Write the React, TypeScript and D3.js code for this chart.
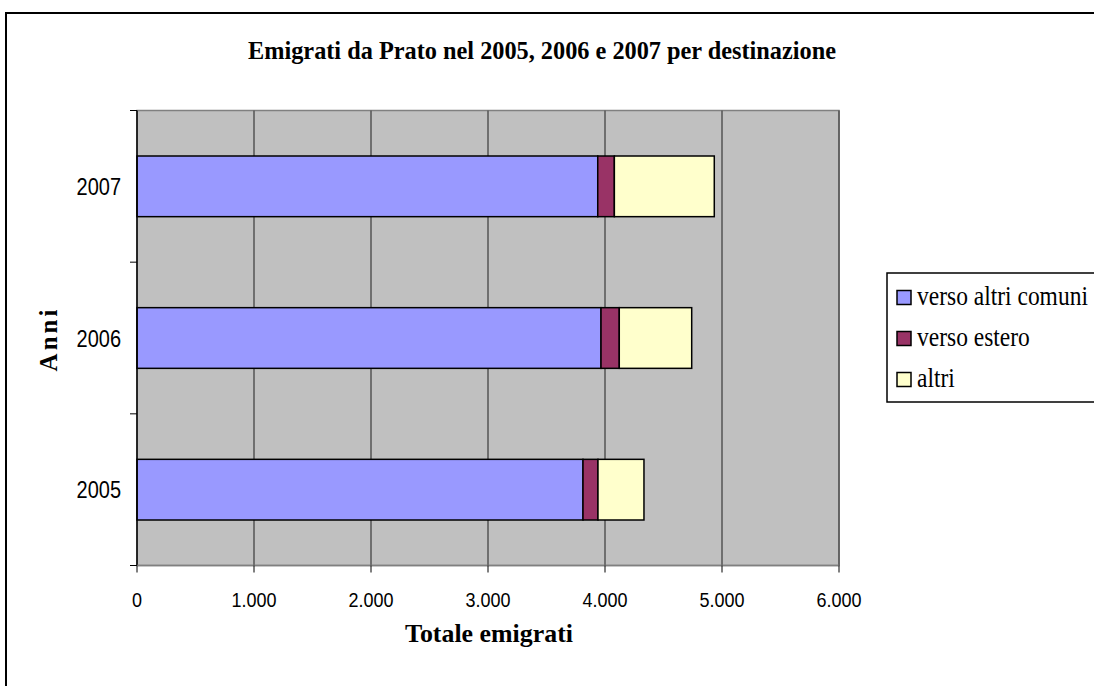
import React from "react";
import * as d3 from "d3";

const years = ["2005", "2006", "2007"];
const seriesNames = ["verso altri comuni", "verso estero", "altri"];
const versoAltriComuni = [3812, 3966, 3938];
const versoEstero = [128, 156, 142];
const altri = [393, 619, 854];
const xTicks = [0, 1000, 2000, 3000, 4000, 5000, 6000];
const colors = ["#9999FF", "#993366", "#FFFFCC"];

const W = 1094;
const H = 686;
const plot = { left: 137, right: 839, top: 110.5, bottom: 565.5 };

const serif = "'Liberation Serif', 'Times New Roman', serif";
const sans = "'Liberation Sans', Arial, sans-serif";

function Txt(props: any) {
  const { x, y, sy = 1.17, children, ...rest } = props;
  return (
    <g transform={`translate(${x},${y}) scale(1,${sy})`}>
      <text x={0} y={0} {...rest}>
        {children}
      </text>
    </g>
  );
}

export default function App() {
  const x = d3.scaleLinear().domain([0, 6000]).range([plot.left, plot.right]);
  const y = d3
    .scaleBand()
    .domain([...years].reverse())
    .range([plot.top, plot.bottom])
    .paddingInner(0.6)
    .paddingOuter(0.3);
  const band = (plot.bottom - plot.top) / years.length;

  const rows = years.map((yr, i) => ({
    year: yr,
    a: versoAltriComuni[i],
    b: versoEstero[i],
    c: altri[i],
  }));
  const stack = d3.stack<any>().keys(["a", "b", "c"])(rows);
  const fmt = (v: number) => d3.format(",")(v).replace(/,/g, ".");

  return (
    <svg width={W} height={H} style={{ position: "absolute", left: 0, top: 0 }}>
      <rect x={0} y={0} width={W} height={H} fill="#fff" />
      <rect x={6} y={13} width={W + 20} height={H + 20} fill="#fff" stroke="#000" strokeWidth={2} />
      <Txt x={542} y={59} sy={1.1} textAnchor="middle" fontFamily={serif} fontWeight="bold" fontSize={23} textLength={588} lengthAdjust="spacingAndGlyphs">
        Emigrati da Prato nel 2005, 2006 e 2007 per destinazione
      </Txt>
      <rect x={plot.left} y={plot.top} width={plot.right - plot.left} height={plot.bottom - plot.top} fill="#C0C0C0" stroke="#808080" strokeWidth={1.5} />
      {xTicks.slice(1).map((t) => (
        <line key={t} x1={x(t)} x2={x(t)} y1={plot.top} y2={plot.bottom} stroke="#555" strokeWidth={1.5} />
      ))}
      {stack.map((s, si) =>
        s.map((d: any, i: number) => (
          <rect
            key={si + "-" + i}
            x={x(d[0])}
            y={y(d.data.year)!}
            width={x(d[1]) - x(d[0])}
            height={y.bandwidth()}
            fill={colors[si]}
            stroke="#000"
            strokeWidth={1.5}
          />
        ))
      )}
      <line x1={plot.left} x2={plot.left} y1={plot.top} y2={plot.bottom} stroke="#000" strokeWidth={1.5} />
      <line x1={plot.left} x2={plot.right} y1={plot.bottom} y2={plot.bottom} stroke="#808080" strokeWidth={1.5} />
      {d3.range(years.length + 1).map((i) => (
        <line key={"yt" + i} x1={plot.left - 7} x2={plot.left} y1={plot.top + i * band} y2={plot.top + i * band} stroke="#000" strokeWidth={1} />
      ))}
      {xTicks.map((t) => (
        <line key={"xt" + t} x1={x(t)} x2={x(t)} y1={plot.bottom} y2={plot.bottom + 7} stroke="#000" strokeWidth={1} />
      ))}
      {years.map((yr) => (
        <Txt key={yr} x={121} y={y(yr)! + y.bandwidth() / 2 + 8.5} textAnchor="end" fontFamily={sans} fontSize={20}>
          {yr}
        </Txt>
      ))}
      {xTicks.map((t) => (
        <Txt key={"xl" + t} x={x(t)} y={607} textAnchor="middle" fontFamily={sans} fontSize={18}>
          {fmt(t)}
        </Txt>
      ))}
      <Txt x={489} y={642} sy={1.05} textAnchor="middle" fontFamily={serif} fontWeight="bold" fontSize={23} textLength={168} lengthAdjust="spacingAndGlyphs">
        Totale emigrati
      </Txt>
      <text transform="translate(57,339) rotate(-90)" textAnchor="middle" fontFamily={serif} fontWeight="bold" fontSize={25} letterSpacing={3}>
        Anni
      </text>
      <rect x={887} y={273} width={W} height={129} fill="#fff" stroke="#000" strokeWidth={1.5} />
      {seriesNames.map((n, i) => (
        <g key={n} transform={`translate(897, ${290.5 + i * 41})`}>
          <rect x={0} y={0} width={14} height={14} fill={colors[i]} stroke="#000" strokeWidth={1.5} />
          <Txt x={20} y={14.5} sy={1.15} fontFamily={serif} fontSize={23.5}>
            {n}
          </Txt>
        </g>
      ))}
    </svg>
  );
}
